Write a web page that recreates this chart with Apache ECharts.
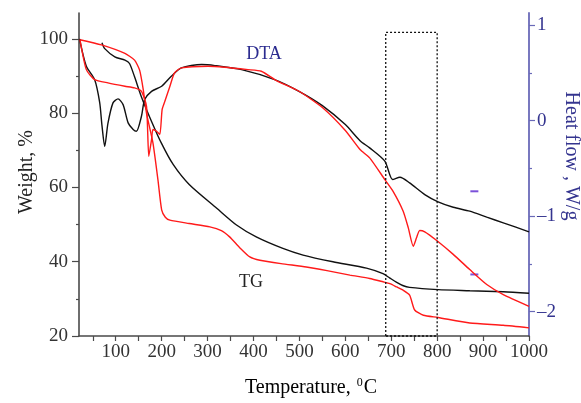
<!DOCTYPE html>
<html>
<head>
<meta charset="utf-8">
<script src="https://cdn.jsdelivr.net/npm/echarts@6/dist/echarts.min.js"></script>
<style>html,body{margin:0;padding:0;background:#fff;}#c{width:581px;height:403px;}</style>
</head>
<body>
<div id="c"></div>
<script>
// ---- data (temperature °C, value) ----
const tgBlack = [[70,99],[76,97.4],[98,95.2],[120,94.3],[130,93.4],[141,89.8],[156,84.4],[178,77.8],[200,71.8],[225,66.2],[260,60.8],[320,54.4],[363,49.9],[406,46.7],[464,43.6],[508,41.8],[573,40],[646,38.3],[682,36.8],[697,35.6],[711,34.5],[725,33.6],[740,33.1],[802,32.5],[871,32.2],[944,31.9],[1000,31.5]];
const tgRed = [[22,99.8],[69,98.4],[120,96.1],[141,94.3],[152,91.6],[160,86.3],[167,80],[181,72],[192,62],[200,54],[208,52],[218,51.2],[260,50.3],[305,49.4],[330,48.4],[348,46.7],[370,43.8],[392,41.3],[414,40.4],[460,39.5],[515,38.6],[560,37.6],[610,36.4],[653,35.5],[682,34.6],[697,34.1],[712,33.2],[725,32.4],[740,31],[751,27],[770,25.6],[802,25],[871,23.5],[944,22.9],[1000,22.2]];
const dtaBlack = [[21,0.855],[36,0.568],[54,0.43],[65,0.19],[70,-0.05],[76,-0.27],[83,-0.03],[94,0.185],[105,0.227],[116,0.167],[127,-0.024],[138,-0.094],[145,-0.112],[156,0.045],[163,0.22],[178,0.306],[200,0.359],[221,0.463],[243,0.551],[287,0.586],[316,0.575],[374,0.533],[446,0.429],[500,0.304],[550,0.157],[600,-0.042],[632,-0.21],[653,-0.286],[686,-0.425],[703,-0.617],[719,-0.593],[740,-0.652],[773,-0.774],[802,-0.85],[835,-0.907],[871,-0.948],[908,-1.011],[944,-1.07],[1000,-1.164]];
const dtaRed = [[22,0.85],[36,0.533],[54,0.429],[83,0.394],[120,0.359],[141,0.342],[156,0.306],[167,0.15],[172,-0.373],[178,-0.199],[181,-0.094],[189,-0.112],[196,-0.146],[201,0.115],[207,0.202],[218,0.359],[228,0.499],[243,0.551],[301,0.568],[337,0.558],[388,0.533],[417,0.516],[450,0.418],[500,0.304],[550,0.136],[600,-0.104],[632,-0.303],[653,-0.39],[686,-0.617],[704,-0.74],[726,-0.948],[737,-1.12],[748,-1.315],[755,-1.227],[762,-1.15],[773,-1.164],[799,-1.255],[835,-1.4],[871,-1.559],[908,-1.715],[944,-1.82],[1000,-1.943]];
const boxRegion = [[688,20],[688,101.8],[800,101.8],[800,20],[688,20]];
const blueDashes = [[881,-0.74],[881,-1.61]];
// ---- axis ticks ----
const xLabels = [100,200,300,400,500,600,700,800,900,1000];
const xTicks = [50,100,150,200,250,300,350,400,450,500,550,600,650,700,750,800,850,900,950,1000];
const wLabels = [20,40,60,80,100];
const wMinor = [30,50,70,90];
const hLabels = [-2,-1,0,1];
const hMinor = [-1.5,-0.5,0.5];

const FONT = 'Liberation Serif';
const axisGray = '#4a4a4a';
const blueAxis = '#6a6ab8';
const blueText = '#34348f';

const chart = echarts.init(document.getElementById('c'), null, {renderer:'canvas'});
const yBase = {type:'value', splitLine:{show:false}};
chart.setOption({
  animation:false,
  backgroundColor:'#fff',
  grid:{left:79, right:52, top:13, bottom:67},
  xAxis:{type:'value', min:20, max:1000, splitLine:{show:false},
    axisLine:{onZero:false, lineStyle:{color:axisGray, width:1.6}},
    axisTick:{customValues:xTicks, length:5, lineStyle:{color:axisGray, width:1.2}},
    axisLabel:{customValues:xLabels, fontFamily:FONT, fontSize:19, color:'#333', margin:7,
      formatter:v=>String(v)}},
  yAxis:[
    Object.assign({}, yBase, {min:20, max:107, position:'left',
      axisLine:{show:true, lineStyle:{color:axisGray, width:1.6}},
      axisTick:{show:true, customValues:wLabels, length:7, lineStyle:{color:axisGray, width:1.2}},
      axisLabel:{customValues:wLabels, fontFamily:FONT, fontSize:19, color:'#333', margin:11,
        formatter:v=>String(v)}}),
    Object.assign({}, yBase, {min:-2.254, max:1.1255, position:'right',
      axisLine:{show:true, lineStyle:{color:blueAxis, width:1.8}},
      axisTick:{show:true, customValues:hLabels, length:6, lineStyle:{color:blueAxis, width:1.2}},
      axisLabel:{customValues:hLabels, fontFamily:FONT, fontSize:19, color:blueText, margin:8,
        formatter:v=> v<0 ? '\u2013'+Math.abs(v) : String(v)}}),
    Object.assign({}, yBase, {min:20, max:107, position:'left', offset:0,
      axisLine:{show:false}, axisLabel:{show:false},
      axisTick:{show:true, customValues:wMinor, length:3, lineStyle:{color:axisGray, width:1.2}}}),
    Object.assign({}, yBase, {min:-2.254, max:1.1255, position:'right', offset:0,
      axisLine:{show:false}, axisLabel:{show:false},
      axisTick:{show:true, customValues:hMinor, length:3, lineStyle:{color:blueAxis, width:1.2}}})
  ],
  series:[
    {type:'line', name:'TG black', yAxisIndex:0, data:tgBlack, showSymbol:false, smooth:0.25,
      lineStyle:{color:'#111', width:1.4}},
    {type:'line', name:'TG red', yAxisIndex:0, data:tgRed, showSymbol:false, smooth:0.2,
      lineStyle:{color:'#ff1a1a', width:1.4}},
    {type:'line', name:'DTA black', yAxisIndex:1, data:dtaBlack, showSymbol:false, smooth:0.25,
      lineStyle:{color:'#111', width:1.4}},
    {type:'line', name:'DTA red', yAxisIndex:1, data:dtaRed, showSymbol:false, smooth:0.2,
      lineStyle:{color:'#ff1a1a', width:1.4}},
    {type:'line', name:'box', yAxisIndex:0, data:boxRegion, showSymbol:false, clip:false,
      lineStyle:{color:'#111', width:1.3, type:[2,2]}},
    {type:'scatter', yAxisIndex:1, data:blueDashes, symbol:'rect', symbolSize:[8,2],
      itemStyle:{color:'#5a25d0'}}
  ],
  graphic:[
    {type:'text', x:27, y:172, rotation:Math.PI/2, style:{text:'Weight, %', font:'20px "'+FONT+'"', fill:'#222', align:'center', verticalAlign:'middle'}},
    {type:'text', x:571, y:156, rotation:-Math.PI/2, style:{text:'Heat flow , W/g', font:'20px "'+FONT+'"', fill:blueText, align:'center', verticalAlign:'middle'}},
    {type:'text', x:311, y:388, style:{
      text:'{a|Temperature, }{s|0}{a|C}', align:'center', verticalAlign:'middle',
      rich:{a:{fontFamily:FONT, fontSize:20, color:'#222', lineHeight:22},
            s:{fontFamily:FONT, fontSize:12, color:'#222', verticalAlign:'top', lineHeight:22, padding:[0,1,0,1]}}}},
    {type:'text', x:264, y:54, style:{text:'DTA', font:'18px "'+FONT+'"', fill:'#2b2b8f', align:'center', verticalAlign:'middle'}},
    {type:'text', x:251, y:282, style:{text:'TG', font:'18px "'+FONT+'"', fill:'#222', align:'center', verticalAlign:'middle'}}
  ]
});
</script>
</body>
</html>
